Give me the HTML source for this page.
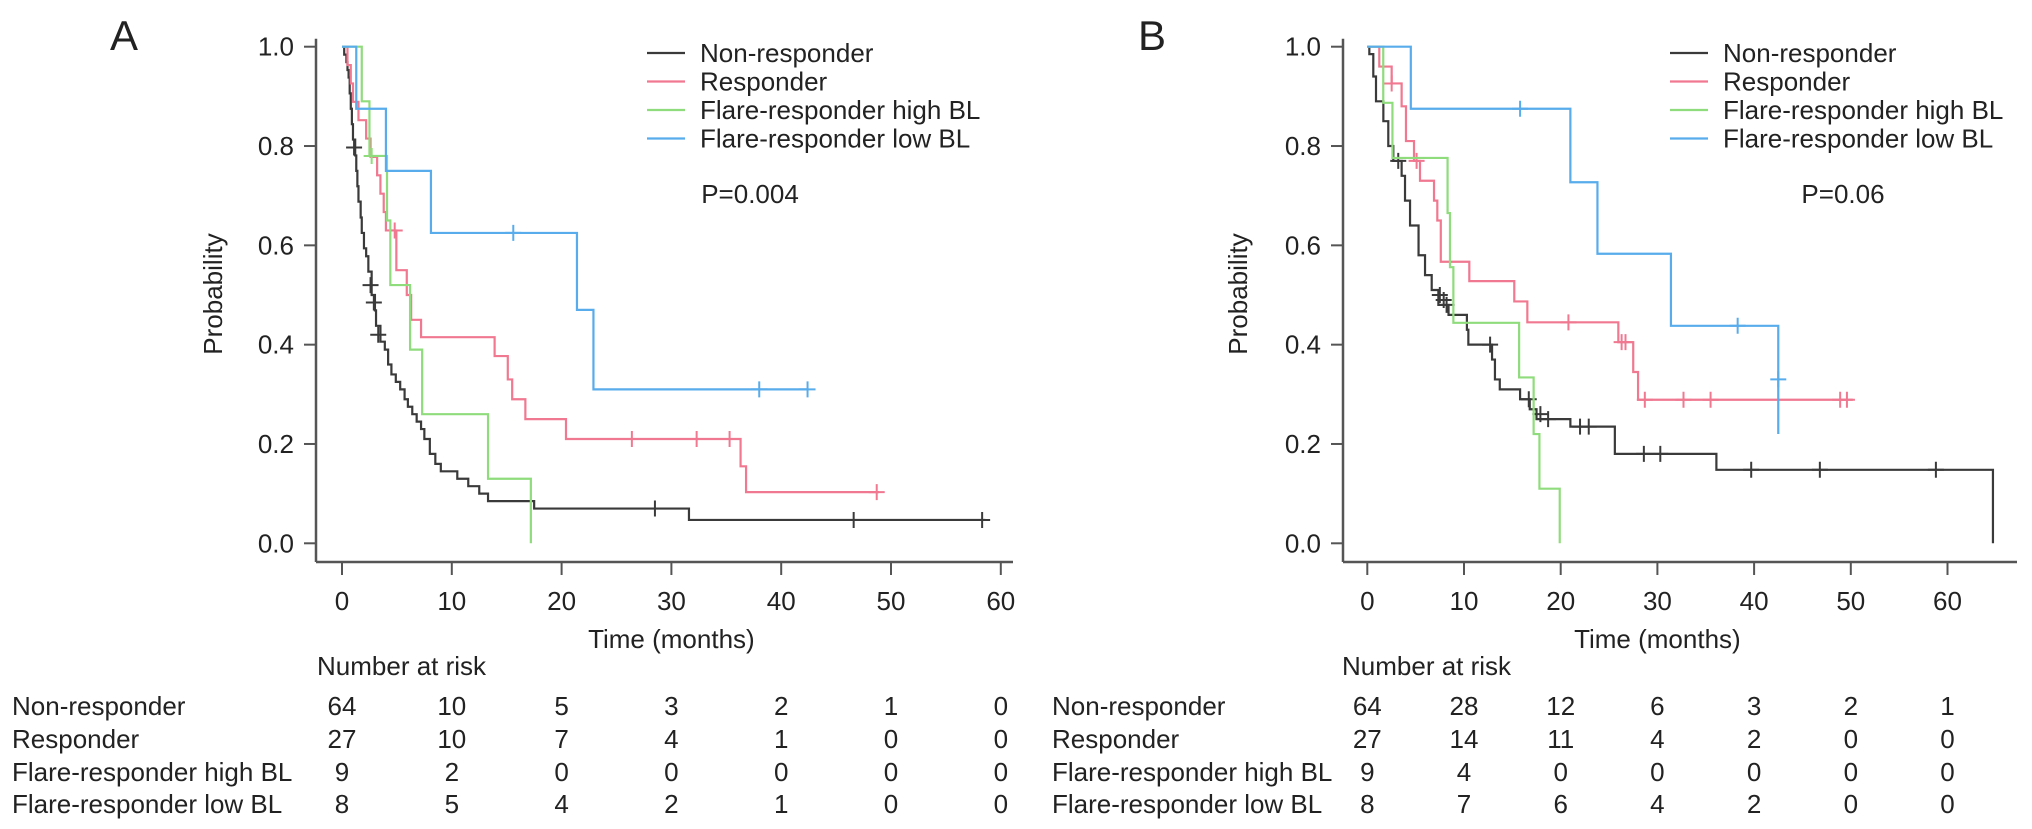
<!DOCTYPE html>
<html><head><meta charset="utf-8"><style>
html,body{margin:0;padding:0;background:#fff}
svg{display:block}
text{font-family:"Liberation Sans",Arial,sans-serif;fill:#222}
</style></head><body>
<svg id="fig" width="2032" height="829" viewBox="0 0 2032 829" xmlns="http://www.w3.org/2000/svg"></svg>
<script>
// ---------- data: panel A ----------
const xTicks = [0,10,20,30,40,50,60];
const yTicks = [0.0,0.2,0.4,0.6,0.8,1.0];
const groupNames = ["Non-responder","Responder","Flare-responder high BL","Flare-responder low BL"];
const colors = ["#3a3a3a","#f07890","#8fdc7c","#58acec"];

const aNonT = [0.2,0.4,0.5,0.6,0.7,0.8,0.9,1.0,1.2,1.3,1.4,1.5,1.7,1.8,2.0,2.2,2.4,2.7,3.0,3.1,3.5,3.9,4.2,4.5,4.9,5.3,5.7,6.0,6.4,6.8,7.2,7.5,8.0,8.5,9.0,10.5,11.5,12.5,13.3,17.5,31.6];
const aNonS = [.984,.969,.953,.938,.906,.875,.844,.813,.781,.75,.719,.688,.656,.625,.594,.578,.547,.5,.469,.438,.406,.39,.36,.34,.325,.31,.29,.275,.26,.245,.23,.21,.18,.16,.145,.13,.115,.10,.085,.07,.047];
const aNonEnd = 58.6;
const aNonCT = [1.1,2.6,2.9,3.3,28.5,46.6,58.3];
const aNonCS = [.797,.52,.485,.42,.07,.047,.047];

const aResT = [0.5,0.8,1.0,1.5,2.2,2.6,3.2,3.5,3.8,4.0,4.95,5.9,6.3,7.2,13.9,15.1,15.5,16.7,20.4,36.3,36.8];
const aResS = [.963,.926,.889,.852,.815,.778,.741,.704,.667,.63,.55,.5,.45,.415,.377,.33,.29,.25,.21,.155,.103];
const aResEnd = 48.9;
const aResCT = [4.8,26.4,32.3,35.3,48.7];
const aResCS = [.63,.21,.21,.21,.103];

const aHighT = [1.8,2.5,4.1,4.4,6.2,7.3,13.3,17.2];
const aHighS = [.89,.78,.65,.52,.39,.26,.13,0];
const aHighEnd = 17.2;
const aHighCT = [2.7];
const aHighCS = [.78];

const aLowT = [1.3,4.0,8.1,21.4,22.9];
const aLowS = [.875,.75,.625,.47,.31];
const aLowEnd = 42.4;
const aLowCT = [15.6,38.0,42.4];
const aLowCS = [.625,.31,.31];

const aRisk = [[64,10,5,3,2,1,0],[27,10,7,4,1,0,0],[9,2,0,0,0,0,0],[8,5,4,2,1,0,0]];

// ---------- data: panel B ----------
const bNonT = [0.21,0.62,0.9,1.66,2.17,2.69,3.55,3.9,4.42,5.3,5.97,6.66,7.35,8.4,10.3,10.45,12.9,13.2,13.7,15.8,16.8,17.5,21.0,25.6,36.1,64.7];
const bNonS = [.985,.94,.89,.85,.80,.77,.74,.69,.64,.58,.54,.51,.48,.46,.43,.40,.37,.33,.31,.29,.27,.25,.235,.18,.148,0];
const bNonEnd = 64.7;
const bNonCT = [3.2,7.5,7.9,8.2,12.7,16.7,17.9,18.7,22.0,22.9,28.6,30.3,39.7,46.8,58.8];
const bNonCS = [.77,.50,.49,.48,.40,.29,.26,.25,.235,.235,.18,.18,.148,.148,.148];

const bResT = [1.24,2.52,3.55,4.0,4.83,5.45,6.9,7.24,7.6,10.55,15.2,16.55,25.96,27.5,28.0];
const bResS = [.96,.926,.88,.81,.77,.73,.69,.65,.567,.528,.487,.445,.405,.345,.289];
const bResEnd = 50.2;
const bResCT = [2.52,5.1,20.8,26.3,26.7,28.7,32.7,35.5,48.9,49.6];
const bResCS = [.926,.77,.445,.405,.405,.289,.289,.289,.289,.289];

const bHighT = [1.65,2.6,8.3,8.55,8.9,15.7,17.2,17.8,19.9];
const bHighS = [.887,.776,.665,.556,.444,.334,.22,.11,0];
const bHighEnd = 19.9;
const bHighCT = [];
const bHighCS = [];

const bLowT = [4.5,21.0,23.8,31.4,42.5];
const bLowS = [.875,.727,.583,.438,.22];
const bLowEnd = 42.5;
const bLowCT = [15.8,38.3,42.5];
const bLowCS = [.875,.438,.33];

const bRisk = [[64,28,12,6,3,2,1],[27,14,11,4,2,0,0],[9,4,0,0,0,0,0],[8,7,6,4,2,0,0]];

// ---------- drawing ----------
const NS = "http://www.w3.org/2000/svg";
const svg = document.getElementById("fig");
const FS = 26;
function mk(tag, attrs, parent, txt){
  const e = document.createElementNS(NS, tag);
  for (const k in attrs) e.setAttribute(k, attrs[k]);
  if (txt !== undefined) e.textContent = txt;
  (parent||svg).appendChild(e);
  return e;
}

function panel(cfg){
  const g = mk("g", {});
  
  
  const X = t => cfg.x0 + t*cfg.px;
  const Y = p => cfg.y0 - p*cfg.py;
  const ax = "#555";
  const L = mk("text", {x:cfg.letterX, y:50, "font-size":42}, g, cfg.letter);
  
  
  const ya = mk("line", {x1:cfg.axX, x2:cfg.axX, y1:Y(1.0)-8, y2:cfg.axY, stroke:ax, "stroke-width":2.5}, g);
  
  
  yTicks.forEach(v=>{
    const tk = mk("line", {x1:cfg.axX-12, x2:cfg.axX, y1:Y(v), y2:Y(v), stroke:ax, "stroke-width":2}, g);
    
    
    const tl = mk("text", {x:cfg.axX-22, y:Y(v)+9, "font-size":FS, "text-anchor":"end"}, g, v.toFixed(1));
    
    
  });
  const yt = mk("text", {x:cfg.probX, y:294, "font-size":FS, "text-anchor":"middle", transform:`rotate(-90 ${cfg.probX} 294)`}, g, "Probability");
  
  
  const xa = mk("line", {x1:cfg.axX, x2:cfg.axEnd, y1:cfg.axY, y2:cfg.axY, stroke:ax, "stroke-width":2.5}, g);
  
  
  xTicks.forEach(v=>{
    const tk = mk("line", {x1:X(v), x2:X(v), y1:cfg.axY, y2:cfg.axY+13, stroke:ax, "stroke-width":2}, g);
    
    
    const tl = mk("text", {x:X(v), y:610, "font-size":FS, "text-anchor":"middle"}, g, String(v));
    
    
  });
  const xt = mk("text", {x:X(30), y:648, "font-size":FS, "text-anchor":"middle"}, g, "Time (months)");
  
  
  cfg.series.forEach((s,i)=>{
    let d = `M${X(0)},${Y(1)}`;
    s.t.forEach((t,j)=>{ d += ` H${X(t)} V${Y(s.s[j])}`; });
    d += ` H${X(s.end)}`;
    const p = mk("path", {d:d, fill:"none", stroke:colors[i], "stroke-width":2.2}, g);
    
    
    s.ct.forEach((t,j)=>{
      const cx = X(t), cy = Y(s.cs[j]);
      const c = mk("path", {d:`M${cx-8},${cy} H${cx+8} M${cx},${cy-8} V${cy+8}`, stroke:colors[i], "stroke-width":2}, g);
      
      
    });
  });
  groupNames.forEach((n,i)=>{
    const yy = 53 + i*28.5;
    const ln = mk("line", {x1:cfg.legX-53, x2:cfg.legX-15, y1:yy, y2:yy, stroke:colors[i], "stroke-width":2.2}, g);
    
    
    const lt = mk("text", {x:cfg.legX, y:yy+9, "font-size":FS}, g, n);
    
    
  });
  const pv = mk("text", {x:cfg.pX, y:203, "font-size":FS, "text-anchor":"middle"}, g, cfg.p);
  
  
  const nr = mk("text", {x:cfg.nrX, y:675, "font-size":FS}, g, "Number at risk");
  
  
  const rowY = [715,748,781,813];
  groupNames.forEach((n,i)=>{
    const rl = mk("text", {x:cfg.tabX, y:rowY[i], "font-size":FS}, g, n);
    
    
    cfg.risk[i].forEach((v,j)=>{
      const rv = mk("text", {x:X(xTicks[j]), y:rowY[i], "font-size":FS, "text-anchor":"middle"}, g, String(v));
      
      
    });
  });
}

panel({id:"a", letter:"A", letterX:110, x0:342, px:10.98, y0:543.3, py:496.6, axX:316, axY:562, axEnd:1013,
  probX:222, legX:700, pX:750, p:"P=0.004", nrX:317, tabX:12, risk:aRisk,
  series:[
    {key:"non-responder", t:aNonT, s:aNonS, end:aNonEnd, ct:aNonCT, cs:aNonCS},
    {key:"responder", t:aResT, s:aResS, end:aResEnd, ct:aResCT, cs:aResCS},
    {key:"flare-high-bl", t:aHighT, s:aHighS, end:aHighEnd, ct:aHighCT, cs:aHighCS},
    {key:"flare-low-bl", t:aLowT, s:aLowS, end:aLowEnd, ct:aLowCT, cs:aLowCS}
  ]});
panel({id:"b", letter:"B", letterX:1138, x0:1367.3, px:9.67, y0:543.3, py:496.6, axX:1343, axY:562, axEnd:2017,
  probX:1247, legX:1723, pX:1843, p:"P=0.06", nrX:1342, tabX:1052, risk:bRisk,
  series:[
    {key:"non-responder", t:bNonT, s:bNonS, end:bNonEnd, ct:bNonCT, cs:bNonCS},
    {key:"responder", t:bResT, s:bResS, end:bResEnd, ct:bResCT, cs:bResCS},
    {key:"flare-high-bl", t:bHighT, s:bHighS, end:bHighEnd, ct:bHighCT, cs:bHighCS},
    {key:"flare-low-bl", t:bLowT, s:bLowS, end:bLowEnd, ct:bLowCT, cs:bLowCS}
  ]});
</script>
</body></html>
